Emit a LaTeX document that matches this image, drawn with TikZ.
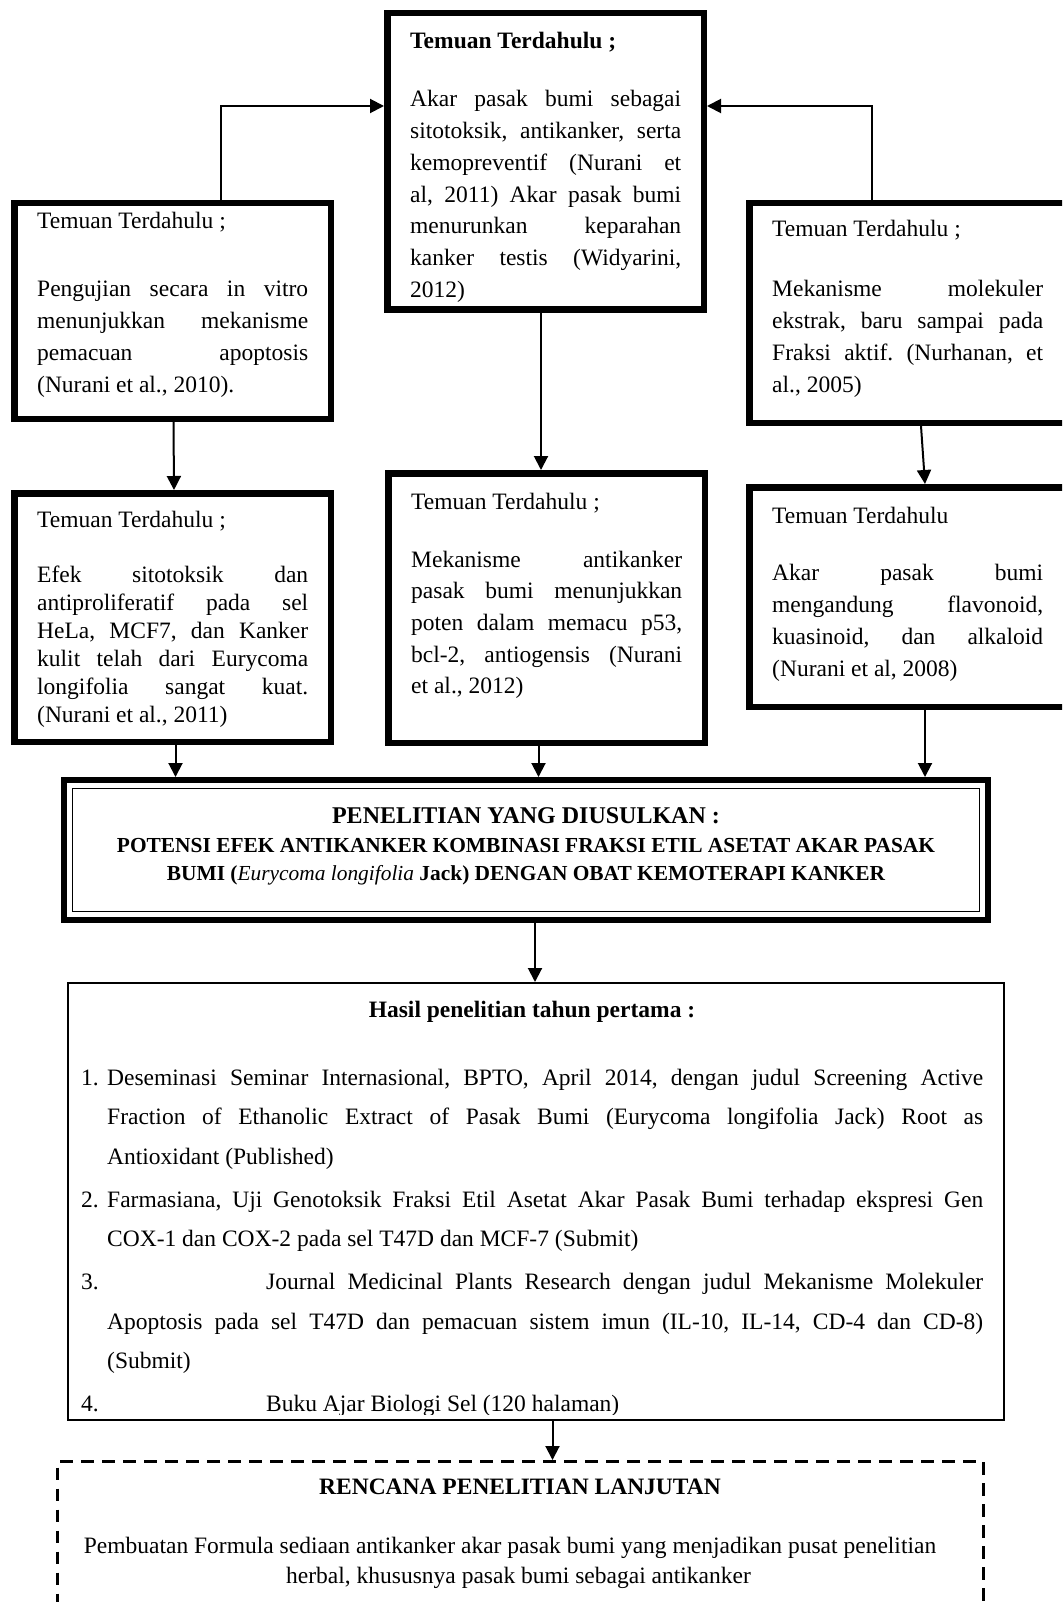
\documentclass[tikz,border=0pt]{standalone}
\usepackage{fontspec}
\setmainfont{Liberation Serif}
\usetikzlibrary{arrows.meta}
\frenchspacing
% one justified line, one natural-width line
\newcommand\jl[1]{\hbox to\hsize{#1}}
\newcommand\nl[1]{\hbox{#1}}
% text column: width, line pitch, heading, extra gap after heading, body lines
\newcommand\findcol[5]{\vtop{\hsize=#1\baselineskip=#2\lineskiplimit=-1000pt\lineskip=0pt
  \nl{#3}\vskip#4\relax #5}}
\begin{document}
\begin{tikzpicture}[x=1pt,y=-1pt,
  card/.style={draw, rectangle, line width=6.5pt, inner sep=0pt, outer sep=3.25pt,
    minimum width=316.5pt},
  body/.style={font=\fontsize{23.5pt}{31.7pt}\selectfont, inner sep=0pt, anchor=base west},
  ctext/.style={inner sep=0pt, anchor=base},
  conn/.style={line width=2pt, -{Triangle[length=14pt,width=14pt]}}]
\useasboundingbox (0,0) rectangle (1062,1602);
\clip (0,0) rectangle (1062,1602);
\fill[white] (0,0) rectangle (1062,1602);

% ---- boxes of earlier findings ----
\node[card, minimum height=296.5pt] (top) at (545.5,161.5) {};
\node[card, minimum height=215.5pt] (l1) at (172.5,311) {};
\node[card, minimum height=219.5pt] (r1) at (907.5,313) {};
\node[card, minimum height=248.5pt] (l2) at (172.5,617.5) {};
\node[card, minimum height=269.5pt] (c2) at (546.5,608) {};
\node[card, minimum height=219.5pt] (r2) at (907.5,597) {};

\node[body] (toptext) at (410,49) {\findcol{271pt}{31.7pt}{\textbf{Temuan Terdahulu ;}}{26.3pt}{%
  \jl{Akar pasak bumi sebagai}
  \jl{sitotoksik, antikanker, serta}
  \jl{kemopreventif (Nurani et}
  \jl{al, 2011) Akar pasak bumi}
  \jl{menurunkan keparahan}
  \jl{kanker testis (Widyarini,}
  \nl{2012)}}};

\node[body] (l1text) at (37,229) {\findcol{271pt}{31.7pt}{Temuan Terdahulu ;}{36.3pt}{%
  \jl{Pengujian secara in vitro}
  \jl{menunjukkan mekanisme}
  \jl{pemacuan apoptosis}
  \nl{(Nurani et al., 2010).}}};

\node[body] (r1text) at (772,237) {\findcol{271pt}{31.7pt}{Temuan Terdahulu ;}{28.3pt}{%
  \jl{Mekanisme molekuler}
  \jl{ekstrak, baru sampai pada}
  \jl{Fraksi aktif. (Nurhanan, et}
  \nl{al., 2005)}}};

\node[body] (l2text) at (37,527) {\findcol{271pt}{28pt}{Temuan Terdahulu ;}{27pt}{%
  \jl{Efek sitotoksik dan}
  \jl{antiproliferatif pada sel}
  \jl{HeLa, MCF7, dan Kanker}
  \jl{kulit telah dari Eurycoma}
  \jl{longifolia sangat kuat.}
  \nl{(Nurani et al., 2011)}}};

\node[body] (c2text) at (411,509) {\findcol{271pt}{31.7pt}{Temuan Terdahulu ;}{26.3pt}{%
  \jl{Mekanisme antikanker}
  \jl{pasak bumi menunjukkan}
  \jl{poten dalam memacu p53,}
  \jl{bcl-2, antiogensis (Nurani}
  \nl{et al., 2012)}}};

\node[body] (r2text) at (772,523) {\findcol{271pt}{32pt}{Temuan Terdahulu}{25pt}{%
  \jl{Akar pasak bumi}
  \jl{mengandung flavonoid,}
  \jl{kuasinoid, dan alkaloid}
  \nl{(Nurani et al, 2008)}}};

% ---- proposed research ----
\node[draw, rectangle, line width=6.3pt, inner sep=0pt, outer sep=3.15pt,
  minimum width=923.7pt, minimum height=139.7pt] (main) at (526,850) {};
\draw[line width=1.5pt] ([shift={(11.5,11.5)}]main.north west)
  rectangle ([shift={(-11.5,-11.5)}]main.south east);
\node[ctext, font=\fontsize{24pt}{28pt}\selectfont\bfseries] (maint1) at (526,823)
  {PENELITIAN YANG DIUSULKAN :};
\node[ctext, font=\fontsize{21.4pt}{28pt}\selectfont\bfseries] (maint2) at (526,852)
  {POTENSI EFEK ANTIKANKER KOMBINASI FRAKSI ETIL ASETAT AKAR PASAK};
\node[ctext, font=\fontsize{21.4pt}{28pt}\selectfont\bfseries] (maint3) at (526,880)
  {BUMI (\textit{\mdseries Eurycoma longifolia} Jack) DENGAN OBAT KEMOTERAPI KANKER};

% ---- results of the first year ----
\node[draw, rectangle, line width=2pt, inner sep=0pt, outer sep=1pt,
  minimum width=936pt, minimum height=437pt] (hasil) at (536,1201.5) {};
\node[ctext, font=\fontsize{23.5pt}{28pt}\selectfont\bfseries] (hasilt) at (532,1017)
  {Hasil penelitian tahun pertama :};
\begin{scope}
\clip (67,982) rectangle (1005,1414.5);
\node[body] (hasillist) at (81,1085) {\vtop{\hsize=902pt\baselineskip=39.5pt\lineskiplimit=-1000pt\lineskip=0pt
  \jl{\hbox to26pt{1.\hss}Deseminasi Seminar Internasional, BPTO, April 2014, dengan judul Screening Active}
  \jl{\hskip26pt Fraction of Ethanolic Extract of Pasak Bumi (Eurycoma longifolia Jack) Root as}
  \nl{\hskip26pt Antioxidant (Published)}
  \vskip3.5pt
  \jl{\hbox to26pt{2.\hss}Farmasiana, Uji Genotoksik Fraksi Etil Asetat Akar Pasak Bumi terhadap ekspresi Gen}
  \nl{\hskip26pt COX-1 dan COX-2 pada sel T47D dan MCF-7 (Submit)}
  \vskip3.5pt
  \jl{\hbox to185pt{3.\hss}Journal Medicinal Plants Research dengan judul Mekanisme Molekuler}
  \jl{\hskip26pt Apoptosis pada sel T47D dan pemacuan sistem imun (IL-10, IL-14, CD-4 dan CD-8)}
  \nl{\hskip26pt (Submit)}
  \vskip3.5pt
  \nl{\hbox to185pt{4.\hss}Buku Ajar Biologi Sel (120 halaman)}}};
\end{scope}

% ---- further research plan ----
\node[draw, rectangle, line width=3pt, dash pattern=on 12.5pt off 8.5pt, inner sep=0pt,
  outer sep=1.5pt, minimum width=926pt, minimum height=200pt] (plan) at (520.5,1561.5) {};
\node[ctext, font=\fontsize{23.5pt}{28pt}\selectfont\bfseries] (plant) at (520,1494)
  {RENCANA PENELITIAN LANJUTAN};
\node[ctext, font=\fontsize{23.5pt}{28pt}\selectfont] (plan1) at (510,1553)
  {Pembuatan Formula sediaan antikanker akar pasak bumi yang menjadikan pusat penelitian};
\node[ctext, font=\fontsize{23.5pt}{28pt}\selectfont] (plan2) at (518.5,1583)
  {herbal, khususnya pasak bumi sebagai antikanker};

% ---- connectors ----
\coordinate (jl) at (221,106);
\coordinate (jr) at (872,106);
\coordinate (xc) at (541,0);
\coordinate (xa) at (175.5,0);
\coordinate (xb) at (538.5,0);
\coordinate (xd) at (925,0);
\coordinate (xm) at (535,0);
\coordinate (xh) at (552.5,0);
\draw[conn] (l1.north -| jl) |- (top.west |- jl);
\draw[conn] (r1.north -| jr) |- (top.east |- jr);
\draw[conn] (top.south -| xc) -- (c2.north -| xc);
\draw[conn] ([xshift=1pt]l1.south) -- ([xshift=1.5pt]l2.north);
\draw[conn] ([xshift=13.5pt]r1.south) -- ([xshift=17.5pt]r2.north);
\draw[conn] (l2.south -| xa) -- (main.north -| xa);
\draw[conn] (c2.south -| xb) -- (main.north -| xb);
\draw[conn] (r2.south -| xd) -- (main.north -| xd);
\draw[conn] (main.south -| xm) -- (hasil.north -| xm);
\draw[conn] (hasil.south -| xh) -- (plan.north -| xh);
\end{tikzpicture}
\end{document}
